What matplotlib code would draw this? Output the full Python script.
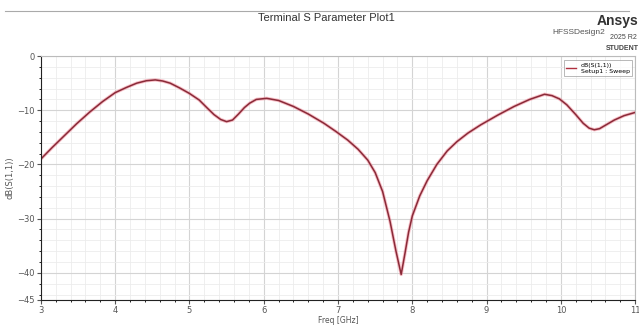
import matplotlib.pyplot as plt
import numpy as np

# S11
freq = [3.0, 3.15, 3.3, 3.48, 3.66, 3.83, 4.0, 4.15, 4.29, 4.42, 4.54, 4.64,
        4.74, 4.87, 5.0, 5.13, 5.24, 5.33, 5.42, 5.5, 5.58, 5.66, 5.74, 5.81,
        5.9, 6.04, 6.2, 6.4, 6.6, 6.81, 6.97, 7.13, 7.27, 7.4, 7.5, 7.6, 7.7,
        7.78, 7.85, 7.9, 7.95, 8.0, 8.1, 8.2, 8.33, 8.47, 8.6, 8.75, 8.92, 9.15,
        9.37, 9.58, 9.78, 9.88, 9.98, 10.08, 10.2, 10.3, 10.38, 10.45, 10.52,
        10.62, 10.72, 10.85, 11.0]
s11 = [-19.0, -16.9, -14.9, -12.5, -10.3, -8.4, -6.75, -5.8, -5.0, -4.55, -4.4, -4.6,
       -5.0, -5.9, -6.9, -8.1, -9.6, -10.8, -11.7, -12.1, -11.8, -10.7, -9.5, -8.7,
       -8.0, -7.8, -8.2, -9.3, -10.7, -12.4, -13.9, -15.5, -17.2, -19.2, -21.5, -25.0, -30.5,
       -36.0, -40.3, -36.5, -32.5, -29.5, -25.8, -23.0, -20.0, -17.5, -15.8, -14.2, -12.7, -10.9,
       -9.3, -8.0, -7.05, -7.3, -7.9, -9.0, -10.8, -12.4, -13.3, -13.6, -13.4,
       -12.6, -11.8, -11.0, -10.4]

xticks = [3, 4, 5, 6, 7, 8, 9, 10, 11]
yticks = [0, -10, -20, -30, -40, -45]

fig = plt.figure(figsize=(6.39, 3.26), dpi=100)
ax = fig.add_axes([0.064, 0.08, 0.93, 0.748])

ax.plot(freq, s11, color='#f08090', linewidth=2.4, alpha=0.5, solid_capstyle='round')
ax.plot(freq, s11, color='#8a2a38', linewidth=1.1)

ax.set_xlim(3, 11)
ax.set_ylim(-45, 0)
ax.set_xticks(xticks)
ax.set_yticks(yticks)
ax.set_xticks(np.arange(3, 11.01, 0.2), minor=True)
ax.set_yticks(np.arange(-44, 0, 2), minor=True)
ax.grid(which='major', color='#d4d4d4', linewidth=0.8)
ax.grid(which='minor', color='#ececec', linewidth=0.6)
ax.tick_params(labelsize=6, colors='#555555', length=3, width=0.8, pad=1.5)
ax.tick_params(which='minor', length=1.5, width=0.6)
for s in ['left', 'bottom']:
    ax.spines[s].set_color('#222222')
for s in ['top', 'right']:
    ax.spines[s].set_color('#bbbbbb')
    ax.spines[s].set_linewidth(0.8)

ax.set_ylabel('dB(S(1,1))', fontsize=6, color='#555555', labelpad=2)
fig.text(0.53, 0.004, 'Freq [GHz]', ha='center', va='bottom', fontsize=5.5,
         color='#555555')

fig.text(0.51, 0.945, 'Terminal S Parameter Plot1', ha='center', va='center',
         fontsize=8, color='#333333', family='Liberation Sans')
fig.add_artist(plt.Line2D([0.008, 0.985], [0.966, 0.966], color='#aaaaaa', linewidth=0.8))
fig.text(0.905, 0.9, 'HFSSDesign2', ha='center', va='center', fontsize=6,
         color='#555555', family='Liberation Sans')
fig.text(0.999, 0.935, 'Ansys', ha='right', va='center', fontsize=10,
         fontweight='bold', color='#333333', family='Liberation Sans')
fig.text(0.996, 0.885, '2025 R2', ha='right', va='center', fontsize=5,
         color='#444444', family='Liberation Sans')
fig.text(0.999, 0.852, 'STUDENT', ha='right', va='center', fontsize=5,
         fontweight='bold', color='#444444', family='Liberation Sans')

# legend box
leg = ax.legend([plt.Line2D([0], [0], color='#b03040', linewidth=1)],
                ['dB(S(1,1))\nSetup1 : Sweep'], loc='upper right',
                fontsize=4.5, frameon=True, fancybox=False, handlelength=1.5,
                borderpad=0.4, bbox_to_anchor=(1.0, 0.995))
leg.get_frame().set_edgecolor('#999999')
leg.get_frame().set_linewidth(0.6)

fig.savefig('out.png', dpi=100)
